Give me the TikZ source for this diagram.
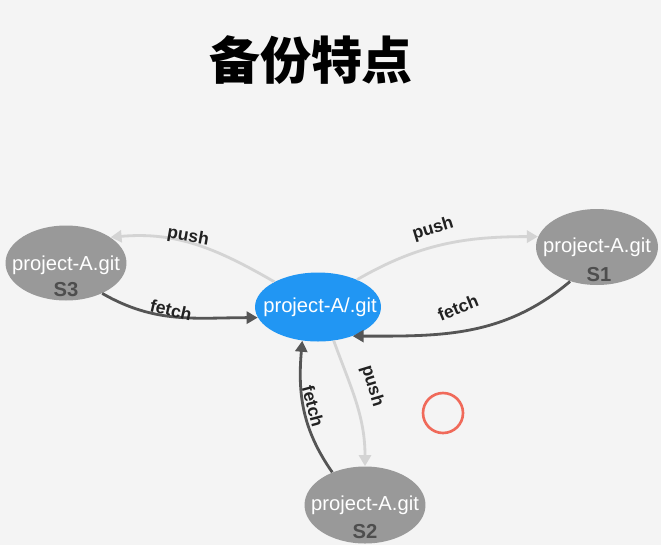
\documentclass[tikz,border=0pt]{standalone}
\usepackage{fontspec}
\setmainfont{Liberation Sans}
\newfontfamily\cjk{Noto Sans CJK SC}
\usetikzlibrary{shapes.geometric,arrows.meta}
\definecolor{bg}{HTML}{F4F4F4}
\definecolor{blueN}{HTML}{2196F3}
\definecolor{grayN}{HTML}{999999}
\definecolor{pushC}{HTML}{D4D4D4}
\definecolor{fetchC}{HTML}{555555}
\definecolor{txtC}{HTML}{222222}
\definecolor{redC}{HTML}{F06A5A}
\tikzset{
  repo/.style={ellipse, fill=grayN, inner sep=0pt},
  mainrepo/.style={ellipse, fill=blueN, inner sep=0pt},
  repotext/.style={text=white, font=\fontsize{11.5}{13}\selectfont, inner sep=0pt},
  srv/.style={text=txtC!80!white, font=\fontsize{11.5}{13}\selectfont\bfseries, inner sep=0pt},
  pushline/.style={draw=pushC, line width=1.6pt, -{Triangle[length=0.22cm,width=0.24cm]}},
  fetchline/.style={draw=fetchC, line width=1.6pt, -{Triangle[length=0.22cm,width=0.24cm]}},
  lbl/.style={text=txtC, font=\fontsize{10}{12}\selectfont\bfseries, inner sep=0pt},
}
\begin{document}
\begin{tikzpicture}[x=0.02cm,y=-0.02cm]
\fill[bg] (0,0) rectangle (661,545);
\useasboundingbox (0,0) rectangle (661,545);
\node[font=\cjk\bfseries\fontsize{29}{32}\selectfont, text=black] (title) at (311,60) {备份特点};

\node[mainrepo, minimum width=2.52cm, minimum height=1.38cm] (c) at (318,307) {};
\node[repo, minimum width=2.42cm, minimum height=1.5cm] (s3) at (66,263) {};
\node[repo, minimum width=2.44cm, minimum height=1.52cm] (s1) at (597,247) {};
\node[repo, minimum width=2.42cm, minimum height=1.54cm] (s2) at (365,505) {};

\node[repotext] (tc) at (320,307) {project-A/.git};
\node[repotext] (t3) at (66,265) {project-A.git};
\node[repotext] (t1) at (597,247) {project-A.git};
\node[repotext] (t2) at (365,505) {project-A.git};
\node[srv] (l3) at (66,290) {S3};
\node[srv] (l1) at (599,275) {S1};
\node[srv] (l2) at (365,532) {S2};

\draw[pushline] (c.150) to[out=150, in=5] (s3.30);
\draw[fetchline] (s3.-40) to[out=-30, in=180] (c.190);
\draw[pushline] (c.35) to[out=30, in=180] (s1.170);
\draw[fetchline] (s1.-128) to[out=-140, in=0] (c.-40);
\draw[pushline] (c.-65) to[out=-70, in=90] (s2.north);
\draw[fetchline] (s2.135) to[out=125, in=-95] (c.-115);

\node[lbl, rotate=-10] (p3) at (188,237) {push};
\node[lbl, rotate=-13] (f3) at (171,310) {fetch};
\node[lbl, rotate=17] (p1) at (433,229) {push};
\node[lbl, rotate=22] (f1) at (458,308) {fetch};
\node[lbl, rotate=-73] (p2) at (372,386) {push};
\node[lbl, rotate=-75] (f2) at (313,406) {fetch};

\draw[redC, line width=1.5pt] (443,413) circle[radius=0.4cm];
\end{tikzpicture}
\end{document}
